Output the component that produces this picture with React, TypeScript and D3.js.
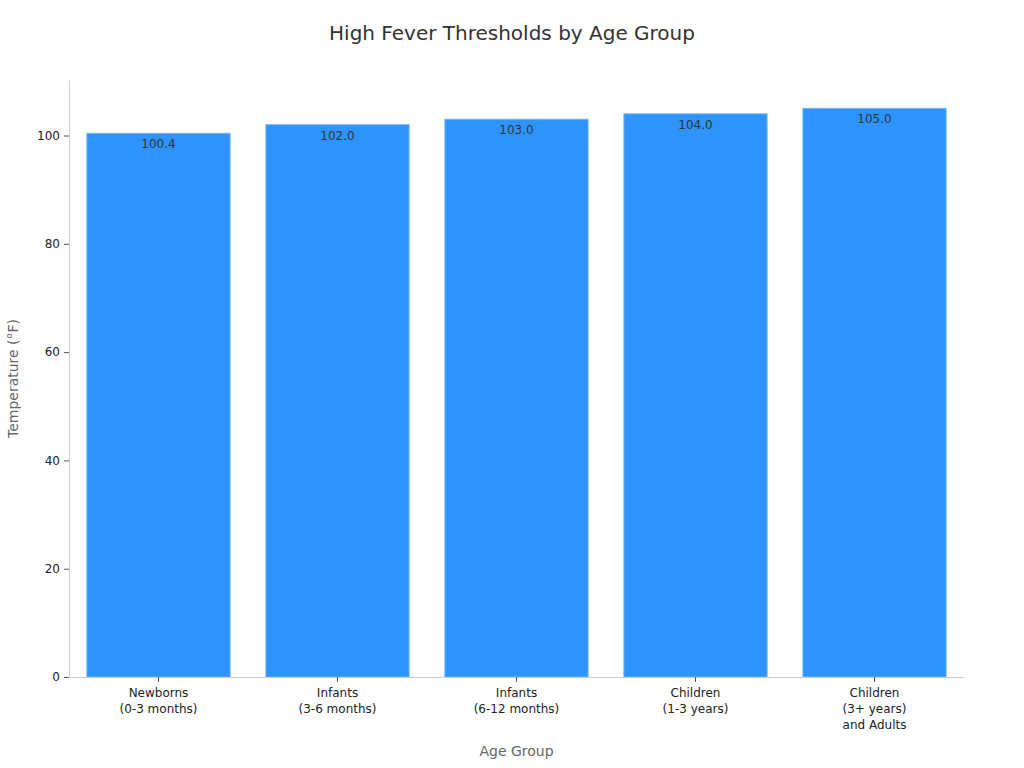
import React, { useEffect, useRef } from 'react';
import * as d3 from 'd3';

const categories: string[][] = [
  ['Newborns', '(0-3 months)'],
  ['Infants', '(3-6 months)'],
  ['Infants', '(6-12 months)'],
  ['Children', '(1-3 years)'],
  ['Children', '(3+ years)', 'and Adults'],
];
const thresholds: number[] = [100.4, 102.0, 103.0, 104.0, 105.0];
const yTicks: number[] = [0, 20, 40, 60, 80, 100];

const App: React.FC = () => {
  const svgRef = useRef<SVGSVGElement>(null);

  useEffect(() => {
    if (!svgRef.current) return;
    const svg = d3.select(svgRef.current);
    svg.selectAll('*').remove();

    const width = 1024;
    const height = 768;
    const margin = { top: 80, right: 60, bottom: 91, left: 69 };
    const font = 'DejaVu Sans, sans-serif';

    const keys = categories.map((c, i) => String(i));
    const x = d3.scaleBand()
      .domain(keys)
      .range([margin.left, width - margin.right])
      .paddingInner(0.2)
      .paddingOuter(0.1);

    const yMax = d3.max(thresholds)! * 1.05;
    const y = d3.scaleLinear()
      .domain([0, yMax])
      .range([height - margin.bottom, margin.top]);

    // Title
    svg.append('text')
      .attr('x', width / 2)
      .attr('y', 40)
      .attr('text-anchor', 'middle')
      .attr('font-family', font)
      .attr('font-size', '20px')
      .attr('fill', '#333')
      .text('High Fever Thresholds by Age Group');

    // Bars
    svg.selectAll('rect.bar')
      .data(thresholds)
      .enter()
      .append('rect')
      .attr('class', 'bar')
      .attr('x', (_, i) => x(keys[i])!)
      .attr('y', d => y(d))
      .attr('width', x.bandwidth())
      .attr('height', d => y(0) - y(d))
      .attr('fill', '#2e93fa')
      .attr('stroke', '#6fb4fb')
      .attr('stroke-width', 1);

    // Value labels
    svg.selectAll('text.value')
      .data(thresholds)
      .enter()
      .append('text')
      .attr('class', 'value')
      .attr('x', (_, i) => x(keys[i])! + x.bandwidth() / 2)
      .attr('y', d => y(d) + 15)
      .attr('text-anchor', 'middle')
      .attr('font-family', font)
      .attr('font-size', '12px')
      .attr('fill', '#333')
      .text(d => d.toFixed(1));

    // Y axis
    const yAxis = svg.append('g')
      .attr('transform', `translate(${margin.left},0)`)
      .call(d3.axisLeft(y).tickValues(yTicks).tickSize(5).tickSizeOuter(0).tickPadding(4));
    yAxis.select('.domain').attr('stroke', '#ccc');
    yAxis.selectAll('.tick line').attr('stroke', '#555');
    yAxis.selectAll('.tick text')
      .attr('font-family', font)
      .attr('font-size', '12px')
      .attr('fill', '#222');

    // X axis
    const xAxis = svg.append('g')
      .attr('transform', `translate(0,${height - margin.bottom})`)
      .call(d3.axisBottom(x).tickSize(5).tickSizeOuter(0).tickFormat(() => ''));
    xAxis.select('.domain').attr('stroke', '#ccc');
    xAxis.selectAll('.tick line').attr('stroke', '#555');
    xAxis.selectAll('.tick text').remove();

    categories.forEach((lines, i) => {
      const t = svg.append('text')
        .attr('x', x(keys[i])! + x.bandwidth() / 2)
        .attr('y', height - margin.bottom + 20)
        .attr('text-anchor', 'middle')
        .attr('font-family', font)
        .attr('font-size', '12px')
        .attr('fill', '#222');
      lines.forEach((line, j) => {
        t.append('tspan')
          .attr('x', x(keys[i])! + x.bandwidth() / 2)
          .attr('dy', j === 0 ? 0 : 16)
          .text(line);
      });
    });

    // Axis titles
    svg.append('text')
      .attr('x', (margin.left + width - margin.right) / 2)
      .attr('y', 756)
      .attr('text-anchor', 'middle')
      .attr('font-family', font)
      .attr('font-size', '14px')
      .attr('fill', '#666')
      .text('Age Group');

    svg.append('text')
      .attr('transform', `translate(18,${(margin.top + height - margin.bottom) / 2}) rotate(-90)`)
      .attr('text-anchor', 'middle')
      .attr('font-family', font)
      .attr('font-size', '14px')
      .attr('fill', '#666')
      .text('Temperature (°F)');
  }, []);

  return (
    <svg
      ref={svgRef}
      width={1024}
      height={768}
      style={{ position: 'absolute', left: 0, top: 0, background: '#fff' }}
    />
  );
};

export default App;
